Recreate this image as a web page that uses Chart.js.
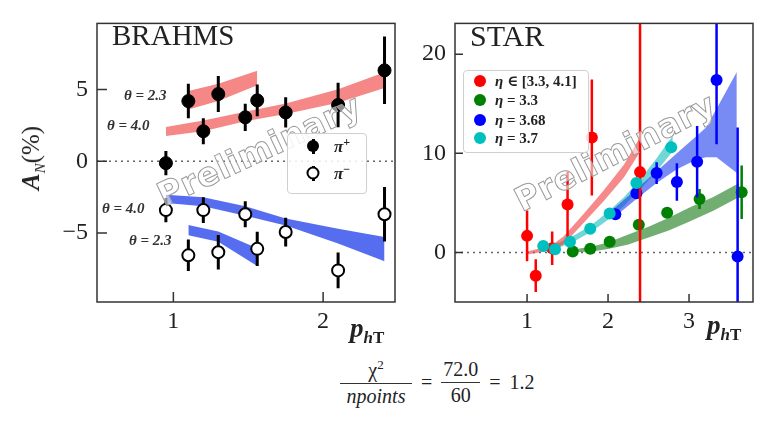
<!DOCTYPE html>
<html>
<head>
<meta charset="utf-8">
<script src="https://cdn.jsdelivr.net/npm/chart.js@4.4.1/dist/chart.umd.min.js"></script>
<style>
  body { margin: 0; background: #fff; width: 767px; height: 421px; position: relative; overflow: hidden;
         font-family: 'Liberation Serif', 'DejaVu Serif', serif; color: #222; }
  canvas { position: absolute; top: 0; }
  .abs { position: absolute; white-space: nowrap; }
  .wm { font-family: 'DejaVu Sans', sans-serif; font-weight: bold; font-size: 33px; color: rgba(255,255,255,0.55);
        -webkit-text-stroke: 1px #9a9a9a; transform: translate(-50%, -50%) rotate(-25deg); letter-spacing: 0.5px; }
  .lbl { font-style: italic; font-weight: bold; font-size: 15px; color: #333; }
  .legend { position: absolute; background: rgba(255,255,255,0.85); border: 1px solid #cfcfcf; border-radius: 4px; }
  .dot { position: absolute; width: 12px; height: 12px; border-radius: 50%; transform: translate(-50%, -50%); }
  .ltxt { position: absolute; font-size: 15px; font-weight: bold; transform: translateY(-50%); white-space: nowrap; }
  .frac { display: inline-flex; flex-direction: column; align-items: center; vertical-align: middle; }
  .frac .num { border-bottom: 1px solid #333; padding: 0 6px 1px; text-align: center; }
  .frac .den { padding-top: 1px; text-align: center; }
</style>
</head>
<body>
<canvas id="brahms" width="420" height="345" style="left:0"></canvas>
<canvas id="star" width="347" height="345" style="left:420px"></canvas>

<div class="abs wm" style="left:259px; top:150px;">Preliminary</div>
<div class="abs wm" style="left:615px; top:152px; transform: translate(-50%, -50%) rotate(-27deg);">Preliminary</div>

<div class="abs" style="left:112px; top:19px; font-size:29px;">BRAHMS</div>
<div class="abs" style="left:470px; top:19px; font-size:30px;">STAR</div>

<div class="abs lbl" style="left:124px; top:87px;">θ = 2.3</div>
<div class="abs lbl" style="left:107px; top:117px;">θ = 4.0</div>
<div class="abs lbl" style="left:102px; top:200px;">θ = 4.0</div>
<div class="abs lbl" style="left:129px; top:232px;">θ = 2.3</div>

<div class="abs" style="left:33px; top:158px; transform: translate(-50%, -50%) rotate(-90deg); font-size:25px;">
  <b><i>A</i></b><sub style="font-size:15px; font-style:italic;">N</sub>(%)
</div>
<div class="abs" style="left:350px; top:313px; font-size:27px;"><b><i>p</i></b><sub style="font-size:17px; font-weight:bold;"><i>h</i>T</sub></div>
<div class="abs" style="left:707px; top:310px; font-size:27px;"><b><i>p</i></b><sub style="font-size:17px; font-weight:bold;"><i>h</i>T</sub></div>

<div class="legend" style="left:287px; top:133px; width:78px; height:59px;"></div>
<div class="abs" style="left:312px; top:139px; width:3px; height:15px; background:#000;"></div>
<div class="dot" style="left:313px; top:146px; background:#000;"></div>
<div class="ltxt" style="left:334px; top:146px; font-size:17px;"><i>π</i><sup style="font-size:12px">+</sup></div>
<div class="abs" style="left:312px; top:166px; width:3px; height:15px; background:#000;"></div>
<div class="dot" style="left:313px; top:173px; background:#fff; border:2px solid #000; width:9px; height:9px;"></div>
<div class="ltxt" style="left:334px; top:173px; font-size:17px;"><i>π</i><sup style="font-size:12px">−</sup></div>

<div class="legend" style="left:463px; top:70px; width:124px; height:81px;"></div>
<div class="dot" style="left:480px; top:81px; background:red;"></div>
<div class="ltxt" style="left:495px; top:81px;"><i>η</i> ∈ [3.3, 4.1]</div>
<div class="dot" style="left:480px; top:100px; background:green;"></div>
<div class="ltxt" style="left:495px; top:100px;"><i>η</i> = 3.3</div>
<div class="dot" style="left:480px; top:120px; background:blue;"></div>
<div class="ltxt" style="left:495px; top:120px;"><i>η</i> = 3.68</div>
<div class="dot" style="left:480px; top:138px; background:#00bfbf;"></div>
<div class="ltxt" style="left:495px; top:138px;"><i>η</i> = 3.7</div>

<div class="abs" style="left:340px; top:357px; font-size:20px;">
  <span class="frac"><span class="num" style="width:60px">χ<sup style="font-size:13px">2</sup></span><span class="den"><i>npoints</i></span></span>
  <span style="margin:0 4px; vertical-align:middle">=</span>
  <span class="frac"><span class="num" style="padding:0 2px 1px">72.0</span><span class="den">60</span></span>
  <span style="margin:0 4px; vertical-align:middle">=</span>
  <span style="vertical-align:middle">1.2</span>
</div>

<script>
// BRAHMS points (pT, A_N in %)
const brahmsPt = [0.95, 1.10, 1.20, 1.30, 1.48, 1.56, 1.75, 2.10, 2.41];
const piPlus = [-0.13, 4.19, 2.09, 4.68, 3.06, 4.24, 3.40, 3.92, 6.33];
const piPlusErr = [0.85, 1.2, 0.9, 1.25, 0.95, 1.1, 1.05, 1.55, 2.35];
const piMinus = [-3.40, -6.55, -3.40, -6.33, -3.69, -6.10, -4.93, -7.60, -3.69];
const piMinusErr = [0.85, 1.1, 0.9, 1.2, 0.9, 1.2, 1.0, 1.25, 1.9];

// BRAHMS theory bands
const band23X = [1.10, 1.30, 1.56];
const red23Lo = [3.6, 4.2, 5.3];
const red23Hi = [4.9, 5.4, 6.3];
const blue23Lo = [-5.16, -5.61, -7.3];
const blue23Hi = [-4.44, -4.89, -6.06];
const band40X = [0.95, 1.20, 1.48, 1.75, 2.10, 2.41];
const red40Lo = [1.76, 2.09, 2.79, 3.29, 4.08, 5.11];
const red40Hi = [2.39, 2.84, 3.45, 4.03, 5.02, 6.2];
const blue40Lo = [-2.9, -3.13, -3.8, -4.48, -5.72, -6.96];
const blue40Hi = [-2.34, -2.5, -3.13, -3.99, -4.7, -5.27];

const brahmsXTicks = [1, 2];
const brahmsYTicks = [-5, 0, 5];

// STAR points
const redX = [1.00, 1.107, 1.31, 1.50, 1.80, 2.395];
const redY = [1.67, -2.35, 0.42, 4.83, 11.6, 8.1];
const redErr = [2.55, 1.65, 1.7, 3.3, 5.85, 40];
const greenX = [1.564, 1.78, 2.02, 2.38, 2.73, 3.13, 3.65];
const greenY = [0.1, 0.36, 1.08, 2.78, 4.0, 5.39, 6.08];
const greenErr = [0.3, 0.3, 0.3, 0.4, 0.5, 1.0, 2.7];
const blueX = [2.09, 2.35, 2.60, 2.85, 3.10, 3.34, 3.60];
const blueY = [3.85, 5.98, 8.0, 7.1, 9.15, 17.4, -0.4];
const blueErr = [0.3, 0.5, 1.1, 1.9, 3.6, 6.5, 13];
const cyanX = [1.20, 1.345, 1.53, 1.78, 2.02, 2.35, 2.78];
const cyanY = [0.65, 0.33, 1.08, 2.38, 3.92, 7.0, 10.6];
const cyanErr = [0.3, 0.3, 0.3, 0.3, 0.3, 0.3, 0.4];

// STAR theory bands
const redBandX = [1.0, 1.3, 1.45, 1.7, 1.95, 2.2, 2.4];
const redBandLo = [-0.2, 0.2, 0.8, 3.0, 5.2, 7.6, 10.2];
const redBandHi = [0.1, 0.7, 1.6, 3.9, 6.3, 8.9, 11.7];
const cyanBandX = [1.15, 1.4, 1.6, 1.8, 2.0, 2.2, 2.4, 2.6, 2.8];
const cyanBandLo = [0.2, 0.5, 1.2, 2.1, 3.3, 4.7, 6.4, 8.2, 10.2];
const cyanBandHi = [0.6, 1.0, 1.8, 2.8, 4.1, 5.6, 7.4, 9.5, 11.8];
const blueBandX = [2.07, 2.35, 2.6, 2.85, 3.1, 3.21, 3.34, 3.59];
const blueBandLo = [3.5, 5.4, 7.0, 8.4, 9.4, 9.6, 9.6, 8.0];
const blueBandHi = [4.4, 6.4, 8.2, 10.0, 11.8, 12.6, 14.5, 18.2];
const greenBandX = [1.5, 1.8, 2.0, 2.25, 2.5, 2.75, 3.0, 3.3, 3.62];
const greenBandLo = [0.0, 0.1, 0.35, 0.8, 1.5, 2.2, 3.1, 4.2, 5.6];
const greenBandHi = [0.2, 0.6, 1.0, 1.8, 2.6, 3.5, 4.5, 5.6, 7.0];

const starXTicks = [1, 2, 3];
const starYTicks = [0, 10, 20];

function pts(xs, ys) { return xs.map((x, i) => ({ x: x, y: ys[i] })); }

function band(xs, lo, hi, color) {
    return [
        { data: pts(xs, lo), borderWidth: 0, pointRadius: 0, fill: false, order: 10 },
        { data: pts(xs, hi), borderWidth: 0, pointRadius: 0, fill: '-1', backgroundColor: color, order: 10 }
    ];
}

function zeroLine(xmin, xmax) {
    return { data: [{ x: xmin, y: 0 }, { x: xmax, y: 0 }], borderColor: '#666', borderWidth: 1.5,
             borderDash: [2, 4], pointRadius: 0, fill: false, order: 20 };
}

// error bars drawn just before each point dataset
const errorBars = {
    id: 'errorBars',
    beforeDatasetDraw(chart, args) {
        const ds = chart.data.datasets[args.index];
        if (!ds.errors) return;
        const ctx = chart.ctx, a = chart.chartArea, y = chart.scales.y;
        ctx.save();
        ctx.beginPath();
        ctx.rect(a.left, a.top, a.right - a.left, a.bottom - a.top);
        ctx.clip();
        ctx.strokeStyle = ds.errorColor;
        ctx.lineWidth = ds.errorWidth;
        args.meta.data.forEach(function(p, i) {
            const v = ds.data[i].y, e = ds.errors[i];
            ctx.beginPath();
            ctx.moveTo(p.x, y.getPixelForValue(v - e));
            ctx.lineTo(p.x, y.getPixelForValue(v + e));
            ctx.stroke();
        });
        ctx.restore();
    }
};

// box around the plot and inward tick marks
const frame = {
    id: 'frame',
    afterDatasetsDraw(chart, args, opts) {
        const ctx = chart.ctx, a = chart.chartArea, sx = chart.scales.x, sy = chart.scales.y;
        ctx.save();
        ctx.strokeStyle = '#333';
        ctx.lineWidth = 1.5;
        ctx.strokeRect(a.left, a.top, a.right - a.left, a.bottom - a.top);
        ctx.beginPath();
        sy.ticks.forEach(function(t) {
            const py = sy.getPixelForValue(t.value);
            ctx.moveTo(a.left, py); ctx.lineTo(a.left + opts.len, py);
        });
        sx.ticks.forEach(function(t) {
            const px = sx.getPixelForValue(t.value);
            ctx.moveTo(px, a.bottom); ctx.lineTo(px, a.bottom - opts.len);
        });
        ctx.stroke();
        ctx.restore();
    }
};

function axes(xmin, xmax, xticks, ymin, ymax, yticks, yWidth) {
    const font = { family: "'Liberation Serif', serif", size: 24 };
    return {
        x: {
            type: 'linear', min: xmin, max: xmax,
            afterBuildTicks: s => { s.ticks = xticks.map(v => ({ value: v })); },
            afterFit: s => { s.height = 43; },
            grid: { display: false, drawTicks: false }, border: { display: false },
            ticks: { font: font, color: '#222', padding: 5, maxRotation: 0 }
        },
        y: {
            type: 'linear', min: ymin, max: ymax,
            afterBuildTicks: s => { s.ticks = yticks.map(v => ({ value: v })); },
            afterFit: s => { s.width = yWidth; },
            grid: { display: false, drawTicks: false }, border: { display: false },
            ticks: { font: font, color: '#222', padding: 9,
                     callback: v => v < 0 ? '\u2212' + Math.abs(v) : String(v) }
        }
    };
}

const common = {
    responsive: false,
    animation: false,
    plugins: { legend: { display: false }, tooltip: { enabled: false } }
};

// BRAHMS
new Chart(document.getElementById('brahms').getContext('2d'), {
    type: 'line',
    data: {
        datasets: [
            zeroLine(0.49, 2.48),
            ...band(band23X, red23Lo, red23Hi, 'rgba(240,70,70,0.65)'),
            ...band(band40X, red40Lo, red40Hi, 'rgba(240,70,70,0.65)'),
            ...band(band40X, blue40Lo, blue40Hi, 'rgba(30,60,235,0.75)'),
            ...band(band23X, blue23Lo, blue23Hi, 'rgba(30,60,235,0.75)'),
            { label: 'π+', data: pts(brahmsPt, piPlus), showLine: false, pointRadius: 6.5,
              pointBackgroundColor: '#000', pointBorderColor: '#000', pointBorderWidth: 1,
              errors: piPlusErr, errorColor: '#000', errorWidth: 3, order: 1 },
            { label: 'π−', data: pts(brahmsPt, piMinus), showLine: false, pointRadius: 6,
              pointBackgroundColor: '#fff', pointBorderColor: '#000', pointBorderWidth: 2,
              errors: piMinusErr, errorColor: '#000', errorWidth: 3, order: 2 }
        ]
    },
    options: Object.assign({}, common, {
        layout: { padding: { left: 0, right: 25, top: 15, bottom: 0 } },
        scales: axes(0.49, 2.48, brahmsXTicks, -9.8, 9.6, brahmsYTicks, 97),
        plugins: Object.assign({}, common.plugins, { frame: { len: 10 } })
    }),
    plugins: [errorBars, frame]
});

// STAR
function starPoints(label, xs, ys, errs, color, order) {
    return { label: label, data: pts(xs, ys), showLine: false, pointRadius: 6,
             pointBackgroundColor: color, pointBorderColor: color, pointBorderWidth: 0,
             errors: errs, errorColor: color, errorWidth: 2.5, order: order };
}

new Chart(document.getElementById('star').getContext('2d'), {
    type: 'line',
    data: {
        datasets: [
            zeroLine(0.11, 3.79),
            ...band(greenBandX, greenBandLo, greenBandHi, 'rgba(20,120,20,0.6)'),
            ...band(blueBandX, blueBandLo, blueBandHi, 'rgba(30,60,235,0.6)'),
            ...band(redBandX, redBandLo, redBandHi, 'rgba(240,60,60,0.6)'),
            ...band(cyanBandX, cyanBandLo, cyanBandHi, 'rgba(0,180,180,0.55)'),
            starPoints('η ∈ [3.3, 4.1]', redX, redY, redErr, 'red', 2),
            starPoints('η = 3.3', greenX, greenY, greenErr, 'green', 4),
            starPoints('η = 3.68', blueX, blueY, blueErr, 'blue', 3),
            starPoints('η = 3.7', cyanX, cyanY, cyanErr, '#00bfbf', 1)
        ]
    },
    options: Object.assign({}, common, {
        layout: { padding: { left: 0, right: 14, top: 15, bottom: 0 } },
        scales: axes(0.11, 3.79, starXTicks, -5, 23.1, starYTicks, 35),
        plugins: Object.assign({}, common.plugins, { frame: { len: 8 } })
    }),
    plugins: [errorBars, frame]
});
</script>
</body>
</html>
